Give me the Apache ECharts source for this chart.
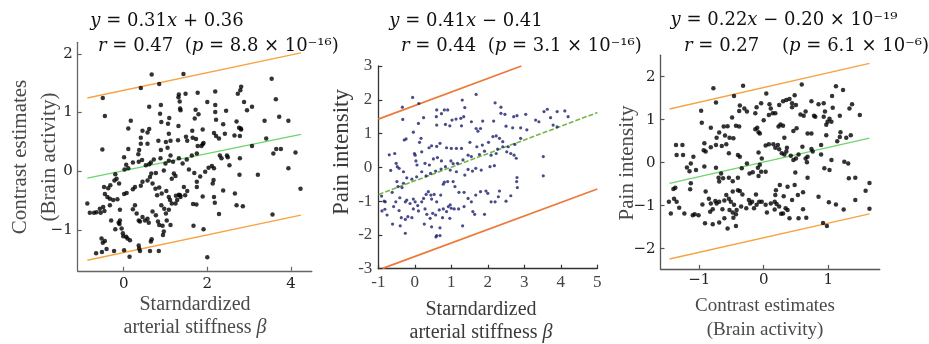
<!DOCTYPE html>
<html><head><meta charset="utf-8">
<script src="https://cdn.jsdelivr.net/npm/echarts@6/dist/echarts.min.js"></script>
<style>html,body{margin:0;padding:0;background:#fff}#c{width:929px;height:344px}</style>
</head><body><div id="c"></div>
<script>
// ---------- data ----------
const panel1Points = [[0.67,1.65],[1.43,1.66],[3.54,1.58],[0.41,1.42],[0.85,1.49],[-0.50,1.25],[1.32,1.31],[1.48,1.32],[1.77,1.34],[2.19,1.36],[2.81,1.44],[2.79,1.38],[2.73,1.32],[1.31,1.26],[1.34,1.19],[1.35,1.07],[1.36,1.04],[2.88,1.18],[2.95,1.04],[3.07,1.10],[3.64,1.23],[0.61,1.10],[0.89,1.13],[1.09,0.91],[-0.45,0.94],[1.70,0.90],[1.72,1.05],[1.79,0.97],[2.00,1.18],[2.19,1.13],[2.19,1.01],[2.45,1.03],[2.21,0.88],[2.38,0.80],[2.76,0.74],[2.80,0.73],[2.70,0.85],[3.37,0.86],[3.72,0.93],[3.94,0.86],[0.17,0.86],[0.11,0.73],[0.45,0.69],[0.57,0.66],[0.61,0.72],[0.87,0.98],[1.08,0.64],[0.90,0.84],[1.31,0.77],[1.06,0.81],[1.64,0.69],[1.89,0.71],[2.16,0.65],[2.21,0.60],[2.28,0.56],[2.42,0.64],[2.65,0.61],[2.81,0.71],[2.78,0.60],[3.41,0.56],[3.76,0.38],[3.58,0.30],[4.11,0.32],[3.65,0.38],[3.07,0.43],[-0.51,0.37],[0.11,0.38],[0.01,0.24],[0.41,0.57],[0.41,0.47],[0.37,0.36],[0.35,0.29],[0.57,0.47],[0.83,0.52],[0.89,0.36],[1.01,0.50],[1.05,0.40],[1.12,0.27],[1.12,0.52],[1.30,0.53],[1.49,0.59],[1.52,0.52],[1.65,0.57],[1.73,0.55],[1.77,0.43],[1.86,0.43],[1.89,0.46],[1.91,0.48],[1.75,0.30],[1.63,0.27],[1.51,0.20],[1.41,0.13],[1.32,0.22],[1.18,0.16],[1.08,0.18],[1.00,0.13],[0.88,0.22],[0.72,0.20],[0.65,0.15],[0.61,0.12],[0.53,0.10],[0.44,0.19],[0.36,0.16],[0.22,0.15],[0.11,0.05],[0.02,0.03],[0.06,0.11],[-0.20,-0.05],[0.66,-0.04],[0.77,-0.03],[0.96,0.01],[1.15,-0.13],[1.20,-0.04],[1.24,-0.08],[1.56,0.03],[1.69,-0.03],[1.83,-0.09],[1.75,-0.18],[1.75,-0.27],[1.95,-0.01],[2.03,0.06],[2.11,0.09],[2.16,0.05],[2.30,0.27],[2.34,0.22],[2.47,0.27],[2.49,0.24],[2.53,0.10],[2.78,0.22],[2.77,-0.06],[3.21,-0.06],[3.94,0.05],[4.23,-0.30],[3.56,-0.74],[2.66,-0.38],[2.70,-0.58],[2.85,-0.60],[2.38,-0.33],[2.28,-0.73],[2.16,-0.44],[2.18,-0.54],[2.13,-0.21],[2.15,-0.15],[-0.47,-0.27],[-0.37,-0.29],[-0.32,-0.24],[-0.17,-0.13],[-0.22,-0.16],[-0.11,-0.21],[-0.45,-0.39],[-0.39,-0.44],[-0.33,-0.47],[0.01,-0.39],[0.07,-0.37],[0.22,-0.31],[0.27,-0.27],[0.41,-0.25],[0.45,-0.18],[0.57,-0.16],[0.63,-0.10],[0.69,-0.21],[0.76,-0.30],[0.85,-0.28],[0.91,-0.38],[0.80,-0.41],[1.02,-0.34],[1.08,-0.44],[1.11,-0.49],[1.25,-0.42],[1.32,-0.40],[1.36,-0.44],[1.44,-0.27],[1.52,-0.34],[1.66,-0.56],[1.74,-0.57],[1.89,-0.43],[-0.87,-0.55],[-0.81,-0.71],[-0.71,-0.71],[-0.65,-0.70],[-0.57,-0.64],[-0.55,-0.71],[-0.49,-0.61],[-0.46,-0.68],[-0.33,-0.58],[-0.30,-0.84],[-0.25,-0.49],[-0.15,-0.48],[-0.09,-0.66],[-0.20,-0.99],[-0.12,-0.88],[-0.09,-0.84],[-0.10,-0.90],[-0.05,-0.98],[-0.02,-1.06],[-0.01,-1.11],[0.06,-1.12],[0.09,-1.15],[0.14,-1.46],[0.15,-1.18],[0.22,-0.65],[0.27,-0.58],[0.31,-0.72],[0.36,-0.84],[0.39,-0.86],[0.45,-0.78],[0.51,-0.84],[0.57,-0.81],[0.60,-0.88],[0.69,-0.69],[0.77,-0.75],[0.82,-0.86],[0.85,-0.92],[0.90,-0.58],[0.97,-0.64],[1.01,-0.72],[1.03,-0.84],[1.08,-0.66],[1.12,-0.92],[1.15,-0.55],[1.24,-0.55],[1.28,-0.49],[1.35,-0.41],[1.47,-0.41],[-0.53,-1.15],[-0.50,-1.22],[-0.45,-1.19],[-0.52,-1.38],[-0.66,-1.40],[-0.41,-1.33],[-0.23,-1.36],[0.01,-1.35],[0.37,-1.32],[0.39,-1.36],[0.36,-1.27],[0.65,-1.20],[0.67,-1.16],[0.63,-1.36],[0.84,-1.36],[0.94,-1.09],[0.96,-1.03],[0.93,-0.93],[1.91,-0.99],[2.00,-1.47],[1.67,-0.93]];

const panel2Points = [[-0.06,2.07],[-0.34,1.78],[0.11,1.89],[1.68,2.16],[1.30,1.99],[2.20,1.91],[2.36,1.78],[0.60,1.70],[0.73,1.59],[0.81,1.70],[0.90,1.70],[1.37,1.77],[1.13,1.43],[1.26,1.45],[1.34,1.50],[1.02,1.40],[0.59,1.50],[-0.33,1.42],[0.24,1.47],[0.10,1.30],[-0.04,1.04],[-0.24,0.84],[0.60,1.25],[0.84,1.27],[0.96,1.23],[1.28,1.23],[1.55,1.35],[1.86,1.37],[1.80,1.15],[1.73,1.07],[1.68,1.15],[2.16,1.37],[2.36,1.60],[2.47,1.57],[2.50,1.22],[2.71,1.50],[2.80,1.53],[3.04,1.57],[3.31,1.40],[3.40,1.35],[3.54,1.65],[3.63,1.72],[3.72,1.47],[3.90,1.65],[4.11,1.67],[4.20,1.50],[3.79,1.25],[3.90,1.20],[2.68,1.17],[2.90,1.17],[3.07,1.11],[2.90,0.86],[2.74,0.68],[2.63,0.41],[2.52,0.46],[2.41,0.76],[2.32,0.86],[2.23,0.93],[2.14,0.91],[2.02,0.74],[1.85,0.66],[1.70,0.61],[1.51,0.74],[1.28,0.56],[1.14,0.56],[1.00,0.56],[0.87,0.58],[0.69,0.71],[0.60,0.62],[0.46,0.64],[0.39,0.58],[0.17,0.86],[0.13,0.74],[0.19,0.46],[-0.01,0.41],[-0.29,0.81],[-0.70,0.37],[-0.55,0.41],[-0.51,0.12],[-0.48,0.02],[-0.43,-0.03],[-0.31,-0.13],[-0.66,-0.09],[0.01,0.36],[0.03,0.19],[0.06,0.07],[0.28,0.12],[0.40,0.07],[0.51,0.25],[0.62,0.29],[0.73,0.19],[0.99,0.19],[1.05,0.11],[1.17,0.12],[1.32,0.22],[1.46,0.36],[1.55,0.32],[1.77,0.38],[1.91,0.48],[2.09,0.36],[2.23,0.41],[2.27,0.54],[2.41,0.61],[2.56,0.61],[2.72,0.36],[2.78,0.27],[2.18,0.05],[2.06,0.02],[1.82,-0.08],[1.67,-0.03],[1.58,-0.11],[1.46,-0.06],[1.37,-0.23],[1.14,-0.13],[0.97,-0.08],[0.84,0.02],[0.72,-0.05],[0.57,-0.11],[0.43,-0.18],[0.31,-0.25],[0.19,-0.13],[0.05,-0.28],[-0.08,-0.35],[-0.22,-0.31],[-0.31,-0.47],[-0.49,-0.42],[-0.46,-0.57],[-0.35,-0.60],[-0.62,-0.74],[-0.81,-1.02],[-0.84,-1.00],[-0.91,-0.85],[-0.82,-1.24],[-0.76,-1.41],[-0.90,-1.29],[-0.58,-1.16],[-0.52,-1.02],[-0.41,-0.90],[-0.26,-1.02],[-0.22,-0.97],[-0.13,-1.07],[-0.04,-0.94],[0.01,-1.02],[0.08,-1.13],[0.19,-1.02],[0.24,-0.92],[0.31,-0.80],[0.37,-0.72],[0.44,-0.82],[0.46,-0.94],[0.53,-0.80],[0.60,-1.02],[0.71,-0.82],[0.78,-0.50],[0.81,-0.44],[0.90,-0.42],[1.05,-0.42],[1.10,-0.57],[1.21,-0.74],[1.35,-0.74],[1.46,-0.92],[1.55,-1.02],[1.67,-0.82],[1.80,-0.72],[1.95,-0.70],[2.00,-0.77],[2.09,-1.02],[2.20,-1.02],[2.29,-0.87],[2.32,-0.70],[2.79,-0.42],[2.80,-0.30],[2.81,-0.60],[2.63,-0.84],[2.50,-1.00],[3.52,-0.25],[3.52,0.32],[1.59,-1.31],[1.64,-1.39],[1.91,-1.39],[-0.43,-1.28],[-0.37,-1.49],[-0.26,-1.54],[-0.19,-1.46],[-0.08,-1.49],[-0.04,-1.23],[0.10,-1.29],[0.28,-1.23],[0.33,-1.39],[0.42,-1.51],[0.49,-1.36],[0.57,-1.41],[0.67,-1.26],[0.78,-1.23],[0.92,-1.16],[0.97,-1.11],[1.00,-1.21],[1.08,-1.23],[1.20,-1.23],[1.35,-1.16],[0.76,-1.49],[0.87,-1.31],[0.96,-1.51],[0.46,-1.76],[0.26,-1.68],[-0.61,-1.68],[-0.40,-1.73],[-0.26,-1.95],[0.69,-1.79],[0.60,-2.02],[0.58,-2.06],[0.69,-2.02],[1.31,-1.73]];

const panel3Points = [[-0.78,1.73],[-0.32,1.79],[0.59,1.82],[1.12,1.78],[1.23,1.69],[0.04,1.61],[-0.46,1.55],[-0.74,1.40],[-0.97,1.21],[1.06,1.55],[1.37,1.36],[1.33,1.26],[1.49,1.11],[-0.37,1.33],[-0.30,1.26],[-0.26,1.19],[-0.38,1.20],[-0.11,1.29],[-0.13,1.15],[-0.04,1.38],[0.09,1.36],[0.11,1.26],[0.14,1.15],[0.08,1.11],[0.18,1.15],[0.24,1.34],[0.30,1.43],[0.35,1.46],[0.40,1.48],[0.44,1.38],[0.48,1.57],[0.44,1.29],[0.50,1.34],[0.57,1.12],[0.62,1.09],[0.65,1.19],[0.74,1.43],[0.78,1.09],[0.80,1.07],[0.85,1.36],[0.93,1.38],[0.95,1.19],[0.93,1.07],[0.99,0.95],[0.97,0.88],[1.02,1.02],[1.05,0.95],[1.07,1.28],[1.18,1.09],[-0.96,0.93],[-0.49,1.05],[-0.56,0.85],[-0.43,0.86],[-0.38,0.84],[-0.82,0.81],[-0.69,0.70],[-0.62,0.84],[-0.60,0.63],[-0.53,0.58],[-0.47,0.57],[-0.73,0.58],[-0.92,0.45],[-0.93,0.29],[-0.90,0.26],[-0.82,0.36],[-0.74,0.41],[-0.65,0.39],[-0.58,0.43],[-0.54,0.22],[-0.40,0.18],[-0.37,0.14],[-0.10,0.81],[-0.08,0.71],[-0.06,0.68],[-0.13,0.78],[0.00,0.99],[0.26,0.89],[0.23,0.84],[0.30,0.86],[0.32,0.58],[0.46,0.74],[0.51,0.80],[0.68,0.68],[0.74,0.68],[0.97,0.64],[1.19,0.71],[1.28,0.58],[1.35,0.64],[-1.36,0.41],[-1.26,0.41],[-1.35,0.18],[-1.25,0.18],[-1.09,0.14],[-1.13,-0.02],[-1.19,-0.11],[-1.05,-0.17],[-1.15,-0.20],[-0.92,-0.09],[-0.74,-0.12],[-0.66,-0.25],[-0.70,-0.35],[-0.69,-0.44],[-0.63,-0.36],[-0.54,-0.35],[-0.48,-0.43],[-0.40,-0.35],[-0.34,-0.13],[-0.26,-0.02],[-0.22,-0.25],[-0.17,-0.22],[-0.08,-0.31],[-0.06,-0.05],[-0.03,0.10],[-0.08,0.24],[0.03,0.40],[0.08,0.43],[0.15,0.43],[0.18,0.35],[0.22,0.41],[0.24,0.31],[0.28,0.22],[0.32,0.19],[0.35,0.26],[0.36,0.35],[0.42,0.16],[0.46,0.06],[0.50,0.10],[0.54,0.19],[0.60,0.37],[0.65,0.10],[0.67,0.01],[0.68,0.14],[0.74,0.32],[0.76,0.26],[0.89,0.41],[0.89,0.19],[0.94,-0.13],[1.02,-0.17],[1.05,0.06],[1.14,0.50],[1.18,0.60],[1.25,0.02],[1.31,-0.02],[1.32,-0.36],[1.42,-0.35],[1.64,-0.47],[1.58,-0.65],[1.64,-1.07],[1.42,-0.87],[1.24,-1.09],[1.12,-0.97],[1.01,-0.92],[0.85,-0.79],[0.92,-1.40],[0.98,-1.47],[0.68,-0.35],[0.61,-0.69],[0.49,-0.23],[0.48,-0.52],[0.44,-0.87],[0.37,-0.56],[0.31,-0.78],[0.25,-0.52],[0.19,-0.64],[0.18,-0.75],[0.17,-0.91],[0.20,-0.96],[0.24,-1.02],[0.27,-1.19],[0.30,-1.18],[0.34,-1.06],[0.37,-1.10],[0.40,-1.29],[0.54,-1.29],[0.61,-1.08],[0.66,-1.28],[0.53,-0.75],[0.03,-0.21],[-0.04,-0.21],[-0.09,-0.12],[-1.37,-0.58],[-1.40,-0.61],[-1.47,-0.91],[-1.39,-0.84],[-1.35,-0.91],[-1.31,-1.05],[-1.23,-1.18],[-1.14,-0.62],[-1.13,-0.48],[-1.10,-1.22],[-1.07,-1.20],[-0.95,-0.97],[-0.90,-0.67],[-0.85,-0.84],[-0.82,-0.95],[-0.83,-1.14],[-0.79,-1.08],[-0.75,-0.89],[-0.73,-0.95],[-0.69,-0.91],[-0.64,-1.08],[-0.61,-0.88],[-0.58,-0.75],[-0.54,-0.84],[-0.48,-0.67],[-0.51,-0.91],[-0.53,-1.10],[-0.48,-1.16],[-0.46,-0.98],[-0.42,-1.10],[-0.40,-0.64],[-0.37,-0.66],[-0.33,-0.74],[-0.27,-1.06],[-0.23,-0.87],[-0.21,-0.95],[-0.18,-0.91],[-0.15,-1.06],[-0.11,-0.98],[-0.07,-0.91],[-0.03,-0.91],[0.03,-0.98],[0.05,-1.16],[0.11,-0.95],[0.17,-1.09],[-0.12,-0.74],[-0.35,-1.02],[-0.43,-1.20],[-0.47,-1.28],[-0.56,-1.53],[-0.43,-1.47],[-0.79,-1.43],[-0.69,-1.39],[-0.91,-1.41],[-1.01,-1.22],[-0.61,-1.29],[-1.44,-1.18]];

// regression / bound lines (endpoints)
const line1X = [-0.87, 4.24];
const line1Mid = [-0.12, 0.63];
const line1Up = [1.25, 2.02];
const line1Lo = [-1.52, -0.75];
const line2MidX = [-0.99, 5.0], line2Mid = [-0.80, 1.62];
const line2UpX = [-1.0, 2.92], line2Up = [1.43, 3.0];
const line2LoX = [-0.88, 5.0], line2Lo = [-2.99, -0.64];
const line3X = [-1.46, 1.64];
const line3Mid = [-0.48, 0.57];
const line3Up = [1.25, 2.31];
const line3Lo = [-2.24, -1.19];

// tick values
const ticks1X = [0, 2, 4], ticks1Y = [-1, 0, 1, 2];
const ticks2X = [-1, 0, 1, 2, 3, 4, 5], ticks2Y = [-3, -2, -1, 0, 1, 2, 3];
const ticks3X = [-1, 0, 1], ticks3Y = [-2, -1, 0, 1, 2];

// ---------- chart ----------
const zip = (xs, ys) => xs.map((x, i) => [x, ys[i]]);
const minusFmt = v => (v < 0 ? '\u2212' + Math.abs(v) : String(v));
const hyphenFmt = v => (v < 0 ? '-' + Math.abs(v) : String(v));

function axis(gi, min, max, ticks, color, labelFont, labelSize, labelColor, fmt, margin) {
  return {
    type: 'value', gridIndex: gi, min, max,
    axisLine: { show: true, onZero: false, lineStyle: { color, width: 1.3 } },
    axisTick: { show: true, inside: true, length: 4, customValues: ticks, lineStyle: { color, width: 1.2 } },
    axisLabel: { customValues: ticks, formatter: fmt, fontFamily: labelFont, fontSize: labelSize, color: labelColor, margin },
    splitLine: { show: false }
  };
}

const chart = echarts.init(document.getElementById('c'), null, { renderer: 'canvas' });
const EQF = 'DejaVu Serif';
const rich = { i: { fontStyle: 'italic', fontFamily: EQF, fontSize: 18, fill: '#111', fontWeight: 'normal' } };
function eq(text, x, y, align) {
  return { type: 'text', x, y, silent: true,
    style: { text, x: 0, y: 0, align, verticalAlign: 'middle', fontFamily: EQF, fontSize: 18, fill: '#111', rich } };
}
function lab(text, x, y, size, lh, rot, color) {
  return { type: 'text', x, y, rotation: rot ? Math.PI / 2 : 0, silent: true,
    style: { text, align: 'center', verticalAlign: 'middle', fontFamily: 'Liberation Serif', fontSize: size, lineHeight: lh, fill: color,
      rich: { b: { fontStyle: 'italic', fontFamily: 'Liberation Serif', fontSize: size, fill: color } } } };
}

const option = {
  animation: false,
  backgroundColor: '#fff',
  grid: [
    { left: 77.7, top: 42.3, width: 234.1, height: 228.5, outerBoundsMode: 'none' },
    { left: 378.3, top: 66, width: 219, height: 202.7, outerBoundsMode: 'none' },
    { left: 660.5, top: 55.2, width: 219.3, height: 213.7, outerBoundsMode: 'none' }
  ],
  xAxis: [
    axis(0, -1.1, 4.5, ticks1X, '#666', 'DejaVu Serif', 15, '#222', minusFmt, 6),
    axis(1, -1, 5, ticks2X, '#333', 'Liberation Serif', 17, '#444', hyphenFmt, 5),
    axis(2, -1.6, 1.8, ticks3X, '#555', 'DejaVu Serif', 15, '#222', minusFmt, 4)
  ],
  yAxis: [
    axis(0, -1.7, 2.2, ticks1Y, '#666', 'DejaVu Serif', 15, '#222', minusFmt, 5),
    axis(1, -3, 3, ticks2Y, '#333', 'Liberation Serif', 17, '#444', hyphenFmt, 6),
    axis(2, -2.47, 2.5, ticks3Y, '#555', 'DejaVu Serif', 15, '#222', minusFmt, 5)
  ],
  series: [
    { type: 'scatter', xAxisIndex: 0, yAxisIndex: 0, data: panel1Points, symbolSize: 4.5, itemStyle: { color: '#000' }, silent: true, z: 3 },
    { type: 'line', xAxisIndex: 0, yAxisIndex: 0, data: zip(line1X, line1Up), showSymbol: false, lineStyle: { color: '#f6a443', width: 1.4 }, silent: true },
    { type: 'line', xAxisIndex: 0, yAxisIndex: 0, data: zip(line1X, line1Mid), showSymbol: false, lineStyle: { color: '#6cd66c', width: 1.3 }, silent: true },
    { type: 'line', xAxisIndex: 0, yAxisIndex: 0, data: zip(line1X, line1Lo), showSymbol: false, lineStyle: { color: '#f6a443', width: 1.4 }, silent: true },

    { type: 'scatter', xAxisIndex: 1, yAxisIndex: 1, data: panel2Points, symbolSize: 3.2, itemStyle: { color: '#1b1f6b' }, silent: true, z: 3 },
    { type: 'line', xAxisIndex: 1, yAxisIndex: 1, data: zip(line2UpX, line2Up), showSymbol: false, lineStyle: { color: '#ec7a3a', width: 1.8 }, silent: true },
    { type: 'line', xAxisIndex: 1, yAxisIndex: 1, data: zip(line2MidX, line2Mid), showSymbol: false, lineStyle: { color: '#78b548', width: 1.6, type: [5, 2] }, silent: true },
    { type: 'line', xAxisIndex: 1, yAxisIndex: 1, data: zip(line2LoX, line2Lo), showSymbol: false, lineStyle: { color: '#ec7a3a', width: 1.8 }, silent: true },

    { type: 'scatter', xAxisIndex: 2, yAxisIndex: 2, data: panel3Points, symbolSize: 4.5, itemStyle: { color: '#000' }, silent: true, z: 3 },
    { type: 'line', xAxisIndex: 2, yAxisIndex: 2, data: zip(line3X, line3Up), showSymbol: false, lineStyle: { color: '#f6a443', width: 1.4 }, silent: true },
    { type: 'line', xAxisIndex: 2, yAxisIndex: 2, data: zip(line3X, line3Mid), showSymbol: false, lineStyle: { color: '#6cd66c', width: 1.3 }, silent: true },
    { type: 'line', xAxisIndex: 2, yAxisIndex: 2, data: zip(line3X, line3Lo), showSymbol: false, lineStyle: { color: '#f6a443', width: 1.4 }, silent: true }
  ],
  graphic: [
    eq('{i|y} = 0.31{i|x} + 0.36', 167, 21, 'center'),
    eq('{i|r} = 0.47  ({i|p} = 8.8 \u00d7 10\u207b\u00b9\u2076)', 98, 46, 'left'),
    eq('{i|y} = 0.41{i|x} \u2212 0.41', 466, 21, 'center'),
    eq('{i|r} = 0.44  ({i|p} = 3.1 \u00d7 10\u207b\u00b9\u2076)', 401, 46, 'left'),
    eq('{i|y} = 0.22{i|x} \u2212 0.20 \u00d7 10\u207b\u00b9\u2079', 784, 20, 'center'),
    eq('{i|r} = 0.27    ({i|p} = 6.1 \u00d7 10\u207b\u2076)', 684, 46, 'left'),
    lab('Contrast estimates\n(Brain activity)', 34.5, 157, 21, 29, true, '#4a4a4a'),
    lab('Starndardized\narterial stiffness {b|\u03b2}', 195, 316.5, 20, 23, false, '#4a4a4a'),
    lab('Pain intensity', 342, 152, 23, 26, true, '#3a3a3a'),
    lab('Starndardized\narterial stiffness {b|\u03b2}', 481, 321.5, 20, 23, false, '#3a3a3a'),
    lab('Pain intensity', 627, 163, 21, 26, true, '#4a4a4a'),
    lab('Contrast estimates\n(Brain activity)', 765, 318, 19, 24, false, '#4a4a4a')
  ]
};
chart.setOption(option);
</script></body></html>
